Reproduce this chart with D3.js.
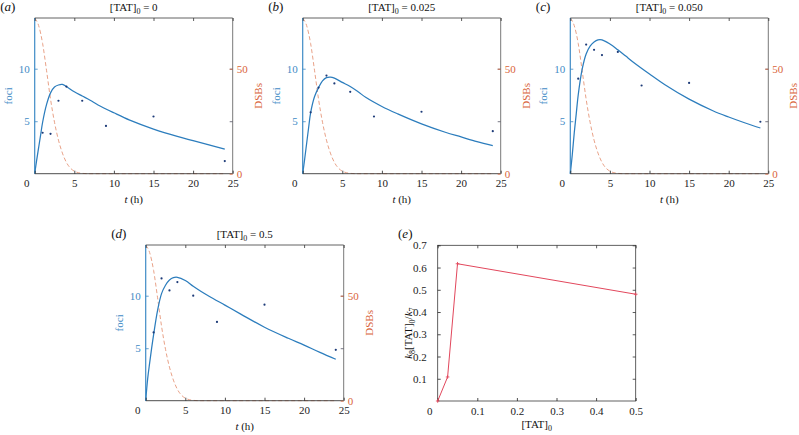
<!DOCTYPE html>
<html><head><meta charset="utf-8">
<script src="https://cdn.jsdelivr.net/npm/d3@7"></script>
<style>
body{margin:0;background:#fff}
svg{display:block}
</style>
</head><body>
<svg id="c" width="799" height="435"></svg>
<script>
// ---------- data ----------
const obsTimes = [1, 2, 3, 4, 6, 9, 15, 24];
const fociObsA = [3.9, 3.8, 6.95, 8.3, 6.95, 4.55, 5.45, 1.2];
const fociObsB = [5.85, 8.2, 9.35, 8.6, 7.8, 5.45, 5.9, 4.05];
const fociObsC = [9.05, 12.3, 11.8, 11.3, 11.6, 8.4, 8.65, 4.95];
const fociObsD = [6.5, 11.65, 10.5, 11.3, 10.0, 7.5, 9.15, 4.85];

const fitTimes = [0, 0.25, 0.5, 0.75, 1, 1.5, 2, 2.5, 3, 3.5, 4, 5, 6, 7, 8, 10, 12, 15, 18, 20, 22, 24];
const fociFitA = [0, 1.3, 2.5, 3.7, 4.9, 6.6, 7.7, 8.25, 8.45, 8.5, 8.3, 7.8, 7.4, 7.0, 6.55, 5.8, 5.1, 4.25, 3.55, 3.15, 2.75, 2.35];
const fociFitB = [0, 1.4, 2.9, 4.4, 5.8, 7.35, 8.2, 8.85, 9.15, 9.2, 9.1, 8.7, 8.3, 7.8, 7.25, 6.4, 5.7, 4.75, 3.95, 3.5, 3.05, 2.67];
const fociFitC = [0, 1.8, 3.9, 5.7, 7.5, 9.95, 11.4, 12.15, 12.55, 12.75, 12.75, 12.35, 11.8, 11.2, 10.6, 9.5, 8.45, 7.1, 6.0, 5.4, 4.85, 4.35];
const fociFitD = [0, 2.1, 3.6, 5.0, 6.3, 8.6, 10.2, 11.0, 11.5, 11.72, 11.75, 11.45, 10.9, 10.4, 9.95, 9.1, 8.25, 7.0, 5.95, 5.3, 4.6, 3.95];

const dsbTimes = [0, 0.5, 1, 1.5, 2, 2.5, 3, 3.5, 4, 4.5, 5, 5.5, 6, 7, 8, 24];
const dsbFit   = [74, 70.5, 62, 49, 35.5, 24.5, 16, 9.8, 5.4, 2.7, 1.2, 0.5, 0.15, 0, 0, 0];

const panelTitles = ['0', '0.025', '0.050', '0.5'];
const panelLetters = ['a', 'b', 'c', 'd', 'e'];
const timeTicks = [0, 5, 10, 15, 20, 25];
const fociTicks = [5, 10];
const dsbTicks = [0, 50];

const tatConc = [0, 0.025, 0.05, 0.5];
const ratioVals = [0, 0.108, 0.617, 0.48];
const eXTicks = [0, 0.1, 0.2, 0.3, 0.4, 0.5];
const eYTicks = [0.1, 0.2, 0.3, 0.4, 0.5, 0.6, 0.7];

// ---------- style / layout ----------
const FONT = '"Liberation Serif","Times New Roman",serif';
const BLUE = '#2c7dbd', BLUE_AX = '#3f8bc6', ORANGE = '#d9643a', DASH = '#e9a288',
      DOT = '#1d3b78', BOX = '#3a3a3a', RED = '#e2475c';
const W = 198, H = 155.7, FS = 11;

const svg = d3.select('#c');

function styleAxis(g, color, size){
  g.attr('font-size', size || FS).attr('color', color);
  g.select('.domain').remove();
  g.selectAll('.tick line').attr('stroke-width', 0.8);
}

function panelLabel(x, y, letter){
  const t = svg.append('text').attr('x', x).attr('y', y).attr('font-size', 13).attr('fill', '#111');
  t.append('tspan').text('(');
  t.append('tspan').attr('font-style', 'italic').text(letter);
  t.append('tspan').text(')');
}

const smooth = d3.curveCatmullRom.alpha(0.5);

function timePanel(p){
  const g = svg.append('g');
  const x0 = p.x0, y0 = p.y0, x1 = x0 + W, y1 = y0 + H;
  const x = d3.scaleLinear().domain([0, 25]).range([x0, x1]);
  const yF = d3.scaleLinear().domain([0, 14.83]).range([y1, y0]);
  const yD = d3.scaleLinear().domain([0, 74.15]).range([y1, y0]);

  // DSB dashed curve
  g.append('path')
    .datum(dsbTimes.map((t, i) => [t, dsbFit[i]]))
    .attr('d', d3.line().x(d => x(d[0])).y(d => yD(d[1])).curve(d3.curveMonotoneX))
    .attr('fill', 'none').attr('stroke', DASH).attr('stroke-width', 1)
    .attr('stroke-dasharray', '4,2.5');

  // foci fit
  g.append('path')
    .datum(fitTimes.map((t, i) => [t, p.fit[i]]))
    .attr('d', d3.line().x(d => x(d[0])).y(d => yF(d[1])).curve(smooth))
    .attr('fill', 'none').attr('stroke', BLUE).attr('stroke-width', 1.25);

  // observations
  g.selectAll('circle.obs').data(obsTimes.map((t, i) => [t, p.obs[i]])).join('circle')
    .attr('class', 'obs').attr('cx', d => x(d[0])).attr('cy', d => yF(d[1]))
    .attr('r', 1.1).attr('fill', DOT);

  // box
  g.append('line').attr('x1', x0).attr('x2', x1).attr('y1', y0).attr('y2', y0).attr('stroke', BOX).attr('stroke-width', 0.8);
  g.append('line').attr('x1', x0).attr('x2', x1).attr('y1', y1).attr('y2', y1).attr('stroke', BOX).attr('stroke-width', 0.9);
  g.append('line').attr('x1', x1).attr('x2', x1).attr('y1', y0).attr('y2', y1).attr('stroke', '#555').attr('stroke-width', 0.8);
  g.append('line').attr('x1', x0).attr('x2', x0).attr('y1', y0).attr('y2', y1).attr('stroke', BLUE_AX).attr('stroke-width', 1.2);

  // bottom axis
  const gb = g.append('g').attr('transform', `translate(0,${y1})`)
    .call(d3.axisBottom(x).tickValues(timeTicks).tickSize(-3).tickPadding(6).tickFormat(d3.format('d')));
  styleAxis(gb, '#222');
  gb.selectAll('.tick').filter(d => d === 0).select('text').attr('dx', -8.5);
  // top ticks
  const gt = g.append('g').attr('transform', `translate(0,${y0})`)
    .call(d3.axisTop(x).tickValues(timeTicks).tickSize(-3).tickFormat(''));
  styleAxis(gt, '#333');
  // left foci axis
  const gl = g.append('g').attr('transform', `translate(${x0},0)`)
    .call(d3.axisLeft(yF).tickValues(fociTicks).tickSize(-3).tickPadding(5));
  styleAxis(gl, BLUE_AX);
  // right: mirrored foci ticks
  const gr1 = g.append('g').attr('transform', `translate(${x1},0)`)
    .call(d3.axisRight(yF).tickValues(fociTicks).tickSize(-3).tickFormat(''));
  styleAxis(gr1, '#556');
  // right DSB axis
  const gr = g.append('g').attr('transform', `translate(${x1},0)`)
    .call(d3.axisRight(yD).tickValues(dsbTicks).tickSize(-3).tickPadding(4));
  styleAxis(gr, ORANGE);

  // title
  const cx = (x0 + x1) / 2;
  const t = g.append('text').attr('x', cx).attr('y', y0 - 7).attr('text-anchor', 'middle').attr('font-size', FS).attr('fill', '#111');
  t.append('tspan').text('[TAT]');
  t.append('tspan').attr('font-size', 8).attr('dy', 3).text('0');
  t.append('tspan').attr('dy', -3).text(' = ' + p.title);

  // x label
  const xl = g.append('text').attr('x', cx).attr('y', y1 + 29).attr('text-anchor', 'middle').attr('font-size', FS).attr('fill', '#111');
  xl.append('tspan').attr('font-style', 'italic').text('t');
  xl.append('tspan').text(' (h)');

  // y labels
  g.append('text').attr('transform', `translate(${x0 - 23},${(y0 + y1) / 2}) rotate(-90)`)
    .attr('text-anchor', 'middle').attr('font-size', FS).attr('fill', BLUE_AX).text('foci');
  g.append('text').attr('transform', `translate(${x1 + 29},${(y0 + y1) / 2}) rotate(-90)`)
    .attr('text-anchor', 'middle').attr('font-size', FS).attr('fill', ORANGE).text('DSBs');

  panelLabel(x0 - 34.5, y0 - 7, p.letter);
}

const timeLayout = [
  {x0: 34.7, y0: 18}, {x0: 302.7, y0: 18}, {x0: 570.3, y0: 18}, {x0: 145.7, y0: 245}
];
const obsSets = [fociObsA, fociObsB, fociObsC, fociObsD];
const fitSets = [fociFitA, fociFitB, fociFitC, fociFitD];
timeLayout.forEach((L, i) => timePanel({
  x0: L.x0, y0: L.y0, obs: obsSets[i], fit: fitSets[i], title: panelTitles[i], letter: panelLetters[i]
}));

// ---------- panel (e) ----------
(function(){
  const x0 = 437.7, y0 = 245.3, x1 = x0 + W, y1 = y0 + H;
  const g = svg.append('g');
  const x = d3.scaleLinear().domain([0, 0.5]).range([x0, x1]);
  const y = d3.scaleLinear().domain([0, 0.7]).range([y1, y0]);

  g.append('rect').attr('x', x0).attr('y', y0).attr('width', W).attr('height', H)
    .attr('fill', 'none').attr('stroke', BOX).attr('stroke-width', 0.8);

  const gb = g.append('g').attr('transform', `translate(0,${y1})`)
    .call(d3.axisBottom(x).tickValues(eXTicks).tickSize(-3).tickPadding(6).tickFormat(d => d === 0 ? '0' : d3.format('.1f')(d)));
  styleAxis(gb, '#222');
  gb.selectAll('.tick').filter(d => d === 0).select('text').attr('dx', -8.5);
  const gt = g.append('g').attr('transform', `translate(0,${y0})`)
    .call(d3.axisTop(x).tickValues(eXTicks).tickSize(-3).tickFormat(''));
  styleAxis(gt, '#333');
  const gl = g.append('g').attr('transform', `translate(${x0},0)`)
    .call(d3.axisLeft(y).tickValues(eYTicks).tickSize(-3).tickPadding(11).tickFormat(d3.format('.1f')));
  styleAxis(gl, '#222');
  const gr = g.append('g').attr('transform', `translate(${x1},0)`)
    .call(d3.axisRight(y).tickValues(eYTicks).tickSize(-3).tickFormat(''));
  styleAxis(gr, '#333');

  const pts = tatConc.map((c, i) => [c, ratioVals[i]]);
  g.append('path').datum(pts)
    .attr('d', d3.line().x(d => x(d[0])).y(d => y(d[1])))
    .attr('fill', 'none').attr('stroke', RED).attr('stroke-width', 1);
  g.selectAll('path.mk').data(pts).join('path').attr('class', 'mk')
    .attr('d', d => `M${x(d[0]) - 1.8},${y(d[1])}h3.6M${x(d[0])},${y(d[1]) - 1.8}v3.6`)
    .attr('stroke', RED).attr('stroke-width', 0.9);

  const xl = g.append('text').attr('x', (x0 + x1) / 2).attr('y', y1 + 27).attr('text-anchor', 'middle').attr('font-size', FS).attr('fill', '#111');
  xl.append('tspan').text('[TAT]');
  xl.append('tspan').attr('font-size', 8).attr('dy', 3).text('0');

  const yl = g.append('text').attr('transform', `translate(${x0 - 26},${(y0 + y1) / 2 + 10}) rotate(-90)`)
    .attr('text-anchor', 'middle').attr('font-size', FS).attr('fill', '#111');
  yl.append('tspan').attr('font-style', 'italic').text('k');
  yl.append('tspan').attr('font-size', 8).attr('dy', 3).text('8');
  yl.append('tspan').attr('dy', -3).text('[TAT]');
  yl.append('tspan').attr('font-size', 8).attr('dy', 3).text('0');
  yl.append('tspan').attr('dy', -3).text('/');
  yl.append('tspan').attr('font-style', 'italic').text('k');
  yl.append('tspan').attr('font-size', 8).attr('dy', 3).text('7');

  panelLabel(x0 - 39.7, y0 - 7.5, panelLetters[4]);
})();

// apply the serif font as inline style on every text node
svg.selectAll('text').style('font-family', FONT);
</script>
</body></html>
